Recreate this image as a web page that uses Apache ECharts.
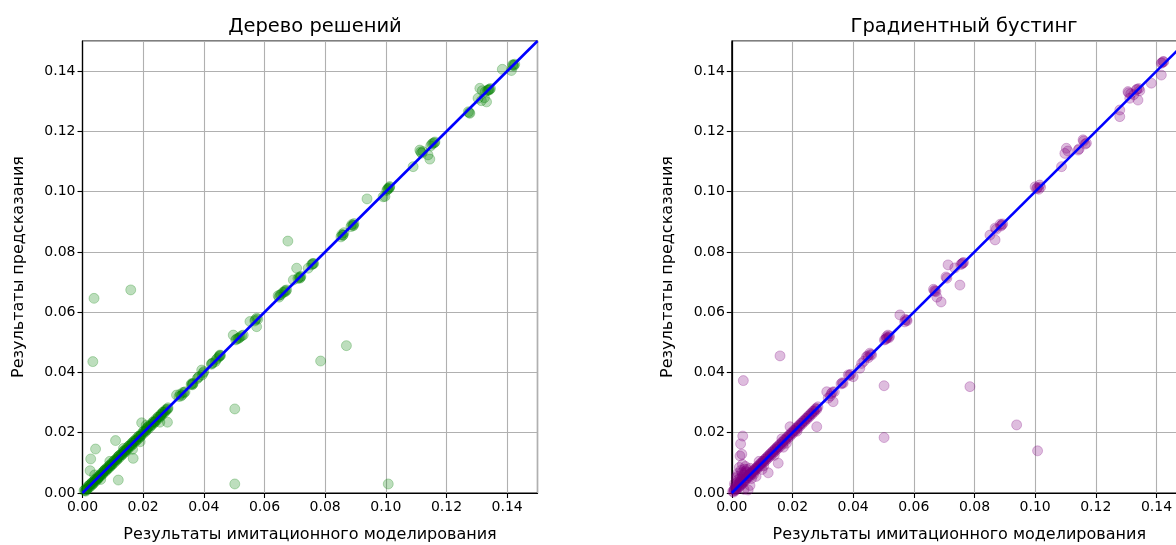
<!DOCTYPE html>
<html>
<head>
<meta charset="utf-8">
<script src="https://cdn.jsdelivr.net/npm/echarts@6/dist/echarts.min.js"></script>
<style>
html,body{margin:0;padding:0;background:#fff;}
#chart{width:1176px;height:545px;}
</style>
</head>
<body>
<div id="chart"></div>
<script>
// ---- data ----
var titles = ['Дерево решений', 'Градиентный бустинг'];
var xLabel = 'Результаты имитационного моделирования';
var yLabel = 'Результаты предсказания';
var axisMin = 0, axisMax = 0.15, axisStep = 0.02;
var idealLine = [[0, 0], [0.15, 0.15]];

var treePoints = [
 [0.0005,0.0008],[0.001,0.0006],[0.0012,0.0015],[0.0015,0.0012],[0.0018,0.0022],[0.002,0.0017],[0.0022,0.0025],[0.0025,0.0021],
 [0.0028,0.003],[0.003,0.0026],[0.0032,0.0035],[0.0035,0.0031],[0.0038,0.004],[0.004,0.0036],[0.0043,0.0045],[0.0045,0.0041],
 [0.0048,0.005],[0.005,0.0046],[0.0053,0.0055],[0.0055,0.0052],[0.0058,0.006],[0.006,0.0057],[0.0063,0.0066],[0.0066,0.0062],
 [0.0069,0.0071],[0.0072,0.0069],[0.0075,0.0078],[0.0078,0.0074],[0.008,0.0083],[0.0083,0.008],[0.0086,0.0088],[0.0089,0.0085],
 [0.0092,0.0094],[0.0095,0.0091],[0.0098,0.0101],[0.0101,0.0097],[0.0104,0.0106],[0.0107,0.0103],[0.011,0.0112],[0.0113,0.0109],
 [0.0116,0.0118],[0.0119,0.0115],[0.0122,0.0125],[0.0125,0.0121],[0.0128,0.013],[0.0131,0.0127],[0.0134,0.0137],[0.0137,0.0133],
 [0.014,0.0142],[0.0143,0.0139],[0.0146,0.0149],[0.0149,0.0145],[0.0152,0.0155],[0.0155,0.0152],[0.0158,0.016],[0.0162,0.0158],
 [0.0165,0.0167],[0.0168,0.0164],[0.0172,0.0174],[0.0175,0.0171],[0.0178,0.0181],[0.0182,0.0178],[0.0186,0.0188],[0.019,0.0186],
 [0.0194,0.0196],[0.0198,0.0195],[0.0202,0.0204],[0.0206,0.0202],[0.021,0.0212],[0.0214,0.021],[0.0218,0.0221],[0.0222,0.0218],
 [0.0226,0.0228],[0.023,0.0227],[0.0234,0.0236],[0.0238,0.0235],[0.0242,0.0245],[0.0246,0.0243],[0.025,0.0252],[0.0254,0.0251],
 [0.0258,0.026],[0.0262,0.0259],[0.0266,0.0268],[0.027,0.0267],[0.0274,0.0276],[0.0278,0.0277],[0.0282,0.0283],
 [0.0008,0.001],[0.0016,0.0014],[0.0024,0.0027],[0.0033,0.0029],[0.0041,0.0044],[0.0049,0.0047],[0.0057,0.0059],[0.0065,0.0063],
 [0.0073,0.0076],[0.0081,0.0079],[0.0089,0.0092],[0.0097,0.0095],[0.0105,0.0108],[0.0113,0.0111],[0.0121,0.0124],[0.0129,0.0127],
 [0.0137,0.014],[0.0145,0.0143],[0.0153,0.0156],[0.0161,0.0159],[0.0169,0.0172],[0.0177,0.0175],[0.0185,0.0188],[0.0193,0.0191],
 [0.0201,0.0204],[0.0209,0.0207],[0.0217,0.022],[0.0225,0.0223],[0.0233,0.0236],[0.0241,0.0239],[0.0249,0.0252],[0.0257,0.0255],
 [0.0265,0.0268],[0.0273,0.0271],[0.0281,0.0279],[0.0012,0.0009],[0.003,0.0033],[0.0052,0.005],[0.0071,0.0073],[0.0092,0.009],
 [0.0117,0.012],[0.0139,0.0136],[0.0163,0.0166],[0.0188,0.0185],[0.0212,0.0215],[0.0236,0.0233],[0.026,0.0262],
 [0.0165,0.0145],[0.0135,0.0148],[0.021,0.0225],[0.0255,0.0235],[0.006,0.0045],[0.004,0.006],[0.009,0.0105],[0.019,0.017],
 [0.0043,0.0146],[0.0027,0.0113],[0.0109,0.0174],[0.0118,0.0043],[0.0167,0.0115],[0.0025,0.0074],[0.0195,0.0233],[0.028,0.0235],
 [0.0038,0.0646],[0.0034,0.0436],[0.0159,0.0674],[0.0677,0.0836],[0.087,0.0489],[0.0785,0.0438],[0.0502,0.0279],[0.0502,0.003],[0.1008,0.003],
 [0.031,0.0325],[0.0318,0.032],[0.0325,0.0322],[0.0332,0.0334],[0.0338,0.0336],[0.0322,0.0328],[0.0328,0.0325],[0.0335,0.0332],
 [0.0358,0.036],[0.0362,0.0359],[0.0365,0.0364],[0.036,0.0363],[0.0363,0.0361],
 [0.0378,0.0379],[0.0384,0.0386],[0.0393,0.0408],[0.0395,0.0392],[0.040,0.0403],[0.0381,0.0383],[0.0398,0.0399],
 [0.0425,0.0427],[0.0426,0.043],[0.0438,0.0436],[0.0445,0.0447],[0.045,0.0452],[0.0453,0.0458],[0.0455,0.0456],[0.0429,0.0431],[0.0441,0.0443],[0.0452,0.0455],
 [0.0497,0.0524],[0.0505,0.0508],[0.0513,0.0513],[0.052,0.0518],[0.053,0.0524],[0.0508,0.0511],[0.0516,0.0514],[0.0525,0.0522],
 [0.0552,0.0569],[0.0574,0.058],[0.0574,0.0552],[0.057,0.0575],[0.0568,0.0571],[0.0578,0.0577],
 [0.0645,0.0655],[0.0651,0.0657],[0.066,0.0665],[0.0673,0.0674],[0.0668,0.0672],[0.0648,0.065],[0.0655,0.0659],[0.0665,0.0667],[0.067,0.0669],
 [0.0706,0.0746],[0.0717,0.0713],[0.0695,0.0707],[0.071,0.0712],[0.072,0.0719],[0.0714,0.0716],[0.0718,0.0715],
 [0.076,0.0762],[0.0744,0.0746],[0.0755,0.0757],[0.0758,0.076],[0.0762,0.0761],
 [0.0859,0.0856],[0.0852,0.085],[0.0862,0.0864],[0.0892,0.0889],[0.0885,0.0884],[0.0895,0.0894],[0.0855,0.0858],[0.0858,0.0855],[0.0888,0.0891],[0.0893,0.0887],
 [0.0938,0.0976],[0.0991,0.0983],[0.0997,0.0984],[0.1007,0.1011],[0.1013,0.1017],[0.1003,0.1004],[0.1006,0.1008],[0.1012,0.1014],[0.101,0.101],
 [0.109,0.1083],[0.1112,0.1138],[0.1118,0.1128],[0.1139,0.1122],[0.1156,0.1161],[0.1148,0.1152],[0.1162,0.1165],[0.1145,0.1108],
 [0.1115,0.1132],[0.1122,0.1133],[0.1152,0.1158],[0.116,0.1162],
 [0.1277,0.126],[0.1272,0.1265],[0.1275,0.1262],[0.131,0.1343],[0.1332,0.1298],[0.1304,0.131],[0.1338,0.1337],[0.1345,0.1342],[0.1325,0.1312],
 [0.1318,0.1335],[0.1315,0.1302],[0.1335,0.1336],[0.134,0.134],[0.1342,0.1338],[0.1328,0.1332],
 [0.142,0.142],[0.1384,0.1406],[0.1414,0.1402],[0.1422,0.1418],[0.1418,0.1421],[0.1425,0.1423]
];

var boostPoints = [
 [0.0003,0.0005],[0.0006,0.0003],[0.0008,0.0012],[0.001,0.0008],[0.0012,0.0018],[0.0014,0.001],[0.0016,0.0022],[0.0018,0.0015],
 [0.002,0.0028],[0.0022,0.0019],[0.0024,0.0032],[0.0026,0.0022],[0.0028,0.0038],[0.003,0.0027],[0.0032,0.0045],[0.0034,0.003],
 [0.0036,0.0052],[0.0038,0.0035],[0.004,0.006],[0.0042,0.0039],[0.0045,0.0072],[0.0047,0.0044],[0.005,0.0078],[0.0052,0.005],
 [0.0055,0.0058],[0.0058,0.0055],[0.006,0.0064],[0.0063,0.006],[0.0066,0.0069],[0.0069,0.0066],[0.0072,0.0075],[0.0075,0.0072],
 [0.0078,0.0081],[0.0081,0.0078],[0.0084,0.0087],[0.0087,0.0084],[0.009,0.0093],[0.0093,0.009],[0.0096,0.0099],[0.0099,0.0096],
 [0.0102,0.0105],[0.0105,0.0101],[0.0108,0.0111],[0.0111,0.0107],[0.0114,0.0117],[0.0117,0.0113],[0.012,0.0123],[0.0123,0.0119],
 [0.0126,0.0129],[0.0129,0.0125],[0.0132,0.0135],[0.0135,0.0131],[0.0138,0.0141],[0.0141,0.0137],[0.0144,0.0147],[0.0147,0.0143],
 [0.015,0.0153],[0.0153,0.0149],[0.0156,0.0159],[0.016,0.0155],[0.0164,0.0167],[0.0168,0.0163],[0.0172,0.0175],[0.0176,0.0172],
 [0.018,0.0183],[0.0184,0.018],[0.0188,0.0191],[0.0192,0.0188],[0.0196,0.0199],[0.02,0.0197],[0.0204,0.0207],[0.0208,0.0205],
 [0.0212,0.0215],[0.0216,0.0213],[0.022,0.0223],[0.0224,0.0221],[0.0228,0.0231],[0.0232,0.0229],[0.0236,0.0239],[0.024,0.0237],
 [0.0244,0.0247],[0.0248,0.0245],[0.0252,0.0255],[0.0256,0.0253],[0.026,0.0263],[0.0264,0.0261],[0.0268,0.0271],[0.0272,0.0269],
 [0.0276,0.0279],[0.028,0.0277],[0.0284,0.0286],
 [0.0007,0.0009],[0.0015,0.0017],[0.0023,0.0025],[0.0031,0.0033],[0.0039,0.0041],[0.0047,0.0049],[0.0055,0.0057],[0.0063,0.0065],
 [0.0071,0.0073],[0.0079,0.0081],[0.0087,0.0089],[0.0095,0.0097],[0.0103,0.0105],[0.0111,0.0113],[0.0119,0.0121],[0.0127,0.0129],
 [0.0135,0.0137],[0.0143,0.0145],[0.0151,0.0153],[0.0159,0.0161],[0.0167,0.0169],[0.0175,0.0177],[0.0183,0.0185],[0.0191,0.0193],
 [0.0199,0.0201],[0.0207,0.0209],[0.0215,0.0217],[0.0223,0.0225],[0.0231,0.0233],[0.0239,0.0241],[0.0247,0.0249],[0.0255,0.0257],
 [0.0263,0.0265],[0.0271,0.0273],[0.0279,0.0281],[0.0011,0.0025],[0.0019,0.0035],[0.0027,0.0048],[0.0035,0.006],[0.0043,0.0066],
 [0.0021,0.0045],[0.0033,0.0068],[0.0041,0.0079],[0.0049,0.0069],[0.0009,0.0031],[0.0017,0.0055],[0.006,0.0082],[0.0065,0.0048],
 [0.0072,0.0062],[0.009,0.0105],[0.0105,0.009],[0.014,0.0125],[0.0165,0.018],[0.018,0.0165],
 [0.0025,0.0085],[0.003,0.0075],[0.0035,0.0095],[0.002,0.0065],[0.0045,0.0088],[0.0015,0.005],[0.004,0.0012],[0.0054,0.001],
 [0.006,0.0025],[0.008,0.0055],[0.0036,0.0189],[0.0029,0.0163],[0.0033,0.0129],[0.0027,0.0123],[0.0038,0.0373],[0.0159,0.0455],
 [0.012,0.0067],[0.0153,0.0099],[0.0192,0.022],[0.017,0.0152],[0.01,0.0078],[0.028,0.022],[0.0215,0.0205],
 [0.0502,0.0356],[0.0502,0.0184],[0.0785,0.0353],[0.0939,0.0226],[0.1008,0.014],
 [0.0313,0.0336],[0.0334,0.0303],[0.0325,0.0322],[0.0332,0.0335],[0.0318,0.0315],[0.0328,0.033],[0.0338,0.0336],
 [0.0367,0.0364],[0.036,0.0362],[0.0384,0.0392],[0.04,0.0386],[0.0392,0.0394],[0.0364,0.0366],[0.0388,0.039],
 [0.0422,0.0414],[0.0428,0.043],[0.0444,0.0452],[0.0455,0.0464],[0.0461,0.0458],[0.045,0.0449],[0.0435,0.0437],[0.0448,0.0455],[0.0458,0.046],
 [0.051,0.0513],[0.051,0.0519],[0.0503,0.0508],[0.052,0.052],[0.0515,0.0524],[0.0507,0.051],[0.0513,0.0516],[0.0518,0.0515],
 [0.0554,0.0591],[0.0576,0.0574],[0.057,0.0568],[0.0572,0.0576],[0.0578,0.0572],
 [0.067,0.067],[0.0676,0.065],[0.069,0.0634],[0.0665,0.0676],[0.0668,0.0672],[0.0673,0.0668],
 [0.0706,0.0717],[0.0713,0.0757],[0.0735,0.0747],[0.0752,0.069],[0.0761,0.0763],[0.0755,0.0758],[0.0709,0.0713],[0.0759,0.0761],[0.0764,0.0765],
 [0.0851,0.0856],[0.0868,0.0879],[0.089,0.0889],[0.0868,0.084],[0.0885,0.0892],[0.0872,0.0875],[0.0887,0.0886],[0.0893,0.0893],
 [0.1005,0.1011],[0.1015,0.1022],[0.1,0.1016],[0.1012,0.1008],[0.1008,0.1013],[0.1018,0.1015],
 [0.1087,0.1083],[0.1103,0.1144],[0.1098,0.1127],[0.1142,0.1138],[0.1158,0.1172],[0.1169,0.1161],[0.1108,0.1135],
 [0.1145,0.1142],[0.116,0.1168],[0.1165,0.1158],
 [0.1279,0.1271],[0.1279,0.1249],[0.1306,0.1332],[0.1334,0.1338],[0.1339,0.1304],[0.1312,0.131],[0.1325,0.1322],[0.1345,0.1335],
 [0.1308,0.1328],[0.1315,0.1325],[0.1336,0.134],[0.1342,0.1342],
 [0.1383,0.136],[0.1416,0.1426],[0.1416,0.1387],[0.1422,0.1432],[0.1418,0.1428],[0.1424,0.1431]
];

// ---- chart ----
var FONT = 'DejaVu Sans';
var chart = echarts.init(document.getElementById('chart'), null, {renderer: 'canvas'});

function grid(left) {
  return {left: left, top: 41, width: 455, height: 452, containLabel: false, outerBoundsMode: 'none',
          show: true, borderColor: '#000', borderWidth: 1.2, backgroundColor: 'transparent'};
}
function axis(idx, dim) {
  var o = {
    type: 'value', gridIndex: idx, min: axisMin, max: axisMax, interval: axisStep,
    axisLine: {show: true, onZero: false, lineStyle: {color: '#000', width: 1.2}},
    axisTick: {show: true, inside: false, length: 5, lineStyle: {color: '#000', width: 1.1}},
    axisLabel: {show: true, color: '#000', fontFamily: FONT, fontSize: 14, margin: 7,
                showMaxLabel: false, formatter: function (v) { return v.toFixed(2); }},
    splitLine: {show: true, lineStyle: {color: '#b0b0b0', width: 1.1}},
    nameLocation: 'middle',
    nameTextStyle: {color: '#000', fontFamily: FONT, fontSize: 16}
  };
  if (dim === 'x') { o.name = xLabel; o.nameGap = 34; }
  else { o.name = yLabel; o.nameGap = 56; }
  return o;
}
function scatter(idx, data, rgb) {
  return {
    type: 'scatter', xAxisIndex: idx, yAxisIndex: idx, data: data, symbol: 'circle', symbolSize: 10,
    itemStyle: {color: 'rgba(' + rgb + ',0.32)', borderColor: 'rgba(' + rgb + ',0.32)', borderWidth: 1},
    emphasis: {disabled: true}, silent: true, z: 2
  };
}
function lineSeries(idx) {
  return {
    type: 'line', xAxisIndex: idx, yAxisIndex: idx, data: idealLine, symbol: 'none',
    lineStyle: {color: '#0000ff', width: 2.6}, clip: true, silent: true, z: 3
  };
}

chart.setOption({
  animation: false,
  backgroundColor: '#fff',
  title: [
    {text: titles[0], left: 310, top: 12, textAlign: 'center',
     textStyle: {fontFamily: FONT, fontSize: 19.5, fontWeight: 'normal', color: '#000'}},
    {text: titles[1], left: 959, top: 12, textAlign: 'center',
     textStyle: {fontFamily: FONT, fontSize: 19.5, fontWeight: 'normal', color: '#000'}}
  ],
  grid: [grid(82.5), grid(731.8)],
  xAxis: [axis(0, 'x'), axis(1, 'x')],
  yAxis: [axis(0, 'y'), axis(1, 'y')],
  series: [
    scatter(0, treePoints, '0,128,0'),
    lineSeries(0),
    scatter(1, boostPoints, '128,0,128'),
    lineSeries(1)
  ]
});
</script>
</body>
</html>
